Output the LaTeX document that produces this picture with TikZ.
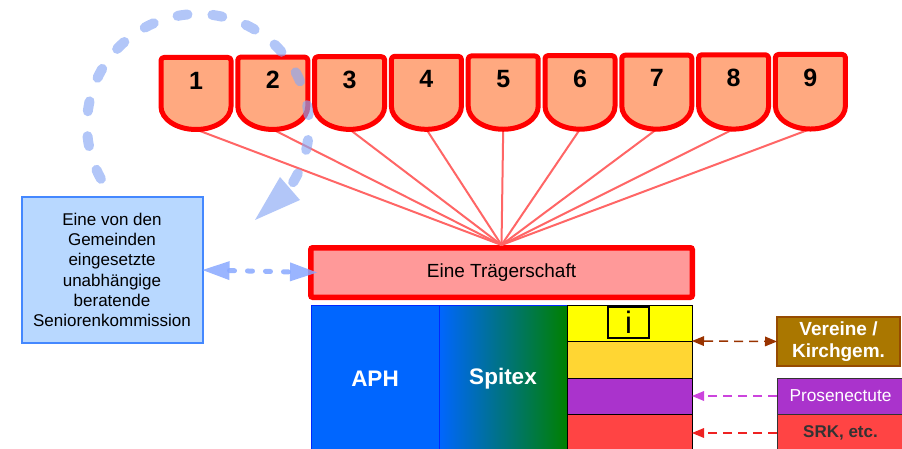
\documentclass[tikz,border=0pt]{standalone}
\usepackage{fontspec}
\setmainfont{Liberation Sans}
\usetikzlibrary{arrows.meta}

\definecolor{shieldfill}{RGB}{255,169,128}
\definecolor{traegerfill}{RGB}{255,153,153}
\definecolor{fanred}{RGB}{255,102,102}
\definecolor{kommfill}{RGB}{184,216,255}
\definecolor{kommline}{RGB}{68,136,255}
\definecolor{loopblue}{RGB}{136,168,245}
\definecolor{arrowblue}{RGB}{136,168,255}
\definecolor{aphblue}{RGB}{0,102,255}
\definecolor{aphline}{RGB}{0,40,255}
\definecolor{spitexgreen}{RGB}{0,128,0}
\definecolor{rowyellow}{RGB}{255,255,0}
\definecolor{rowgold}{RGB}{255,214,51}
\definecolor{rowpurple}{RGB}{170,51,204}
\definecolor{rowred}{RGB}{255,68,68}
\definecolor{vereinfill}{RGB}{170,119,0}
\definecolor{vereinline}{RGB}{150,75,0}
\definecolor{vereinarrow}{RGB}{153,51,0}
\definecolor{proarrow}{RGB}{204,68,221}
\definecolor{srkarrow}{RGB}{238,34,34}
\definecolor{srktext}{RGB}{51,51,51}

\tikzset{
  SmallTip/.tip={Triangle[length=12pt,width=10pt,line width=0pt]},
  BigTip/.tip={Triangle[length=27pt,width=19pt,line width=0pt]}
}

\begin{document}
\begin{tikzpicture}[x=1pt,y=-1pt,
  box/.style={draw, inner sep=0pt, outer sep=0pt, align=center},
  shield/.style={draw=red, line width=5pt, fill=shieldfill, line join=round},
  num/.style={font=\fontsize{25}{29}\selectfont\bfseries, inner sep=0pt},
  fan/.style={draw=fanred, line width=2pt},
  row/.style={box, draw=black, line width=0.8pt, minimum width=125pt},
  sidearrow/.style={line width=1.5pt, dash pattern=on 9pt off 6pt}
]
\clip (0,0) rectangle (902,449);

% advisory commission
\node[box, draw=kommline, line width=2pt, fill=kommfill,
      minimum width=181pt, minimum height=145pt,
      font=\fontsize{17}{20.2}\selectfont] (komm) at (112,270)
  {Eine von den\\Gemeinden\\eingesetzte\\unabhängige\\beratende\\Seniorenkommission};

% sponsoring body
\node[draw=red, line width=5.5pt, fill=traegerfill, rounded corners=2pt,
      inner sep=0pt, minimum width=381.5pt, minimum height=49.5pt,
      font=\fontsize{19}{22}\selectfont] (traeger) at (501.5,272.5) {Eine Trägerschaft};

% service blocks
\node[box, draw=aphline, line width=0.8pt, fill=aphblue, text=white,
      minimum width=128pt, minimum height=147pt,
      font=\fontsize{22.5}{26}\selectfont\bfseries] (aph) at (375,378.5) {APH};
\node[box, draw=aphline, line width=0.8pt, left color=aphblue, right color=spitexgreen,
      text=white, minimum width=128pt, minimum height=147pt,
      font=\fontsize{22.5}{26}\selectfont\bfseries] (spitex) at (503,378.5) {Spitex};

\node[row, fill=rowyellow, minimum height=36pt] (row1) at (629.5,323) {};
\node[row, fill=rowgold, minimum height=37pt] (row2) at (629.5,359.5) {};
\node[row, fill=rowpurple, minimum height=36pt] (row3) at (629.5,396) {};
\node[row, fill=rowred, minimum height=38pt] (row4) at (629.5,433) {};
\node[box, draw=black, line width=1.2pt, minimum width=41pt, minimum height=31pt,
      font=\fontsize{31}{31}\selectfont] (info) at (628.5,322.5) {i};

% partner organisations
\node[box, draw=vereinline, line width=1.2pt, fill=vereinfill, text=white,
      minimum width=123pt, minimum height=49pt,
      font=\fontsize{19}{22}\selectfont\bfseries] (verein) at (838.5,341.5) {Vereine /\\Kirchgem.};
\node[box, draw=black!80, line width=1pt, fill=rowpurple, text=white,
      minimum width=127pt, minimum height=36pt,
      font=\fontsize{17.3}{20}\selectfont] (prosen) at (840.5,396) {Prosenectute};
\node[box, draw=black!80, line width=1pt, fill=rowred, text=srktext,
      minimum width=127pt, minimum height=38pt,
      font=\fontsize{17}{20}\selectfont\bfseries] (srk) at (840.5,433) {SRK, etc.};

% links to partner organisations
\draw[sidearrow, vereinarrow, SmallTip-SmallTip] (row1.south east) -- (verein.west);
\draw[sidearrow, proarrow, -SmallTip] (prosen.west) -- (row3.east);
\draw[sidearrow, srkarrow, -SmallTip] (srk.west) -- (row4.east);

% commission <-> sponsoring body
\draw[arrowblue, opacity=.85, line width=5pt, line cap=round, dash pattern=on 5pt off 13pt,
      BigTip-BigTip] (komm.east) -- ([xshift=9pt]traeger.west);

% fan of lines from the municipalities to the sponsoring body
\foreach \i in {1,...,9}{
  \pgfmathsetmacro\cx{196+76.8*(\i-1)}
  \pgfmathsetmacro\bt{129.5-0.06*(\i-1)}
  \coordinate (b\i) at (\cx,\bt);
  \draw[fan] (b\i) -- (traeger.north);
}

% municipality shields
\foreach \i in {1,...,9}{
  \pgfmathsetmacro\cx{196+76.8*(\i-1)}
  \pgfmathsetmacro\xl{\cx-35}
  \pgfmathsetmacro\xr{\cx+35}
  \pgfmathsetmacro\tp{57.5-0.375*(\i-1)}
  \pgfmathsetmacro\yb{129.5-0.06*(\i-1)-23}
  \path[shield] (\xl,\yb) -- (\xl,\tp+3) arc[start angle=180,end angle=270,radius=3]
    -- (\xr-3,\tp) arc[start angle=270,end angle=360,radius=3]
    -- (\xr,\yb) arc[start angle=0,end angle=180,x radius=35,y radius=23] -- cycle;
  \node[num] (n\i) at (\cx,\tp+23) {\i};
}

% dashed loop from the commission back towards the municipalities
\draw[loopblue, opacity=.65, line width=10pt, line cap=round, dash pattern=on 10pt off 25pt]
  (198,125) ++(151:111) arc[start angle=151, end angle=394, radius=111];
\fill[loopblue, opacity=.65] (280,177) -- (300,200) -- (255,220) -- cycle;
\end{tikzpicture}
\end{document}
